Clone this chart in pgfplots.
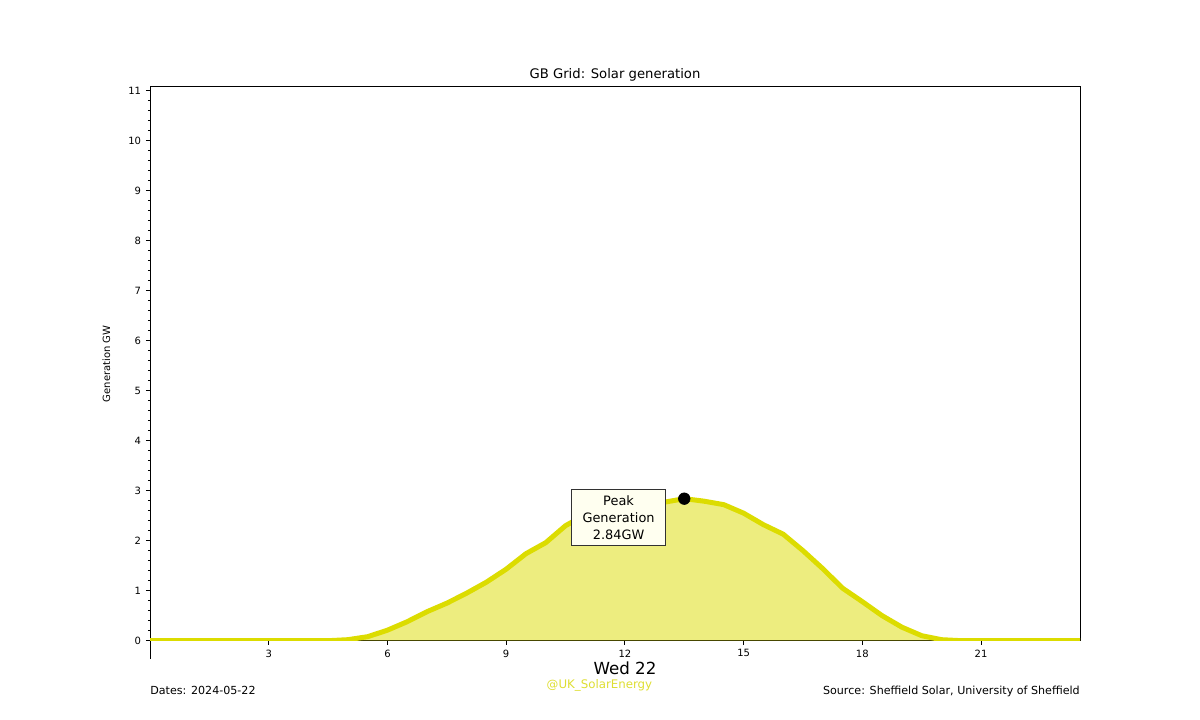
\documentclass[border=0pt]{standalone}
\usepackage{fontspec}
\setmainfont{DejaVu Sans}
\usepackage{pgfplots}
\usepackage{pgfplotstable}
\pgfplotsset{compat=1.18}
\definecolor{solar}{RGB}{220,220,0}
\definecolor{handle}{RGB}{222,222,50}
\definecolor{boxfill}{RGB}{255,255,240}

\pgfplotstableread{
h gw
0.0 0
0.5 0
1.0 0
1.5 0
2.0 0
2.5 0
3.0 0
3.5 0
4.0 0
4.5 0
5.0 0.02
5.5 0.08
6.0 0.21
6.5 0.38
7.0 0.58
7.5 0.75
8.0 0.95
8.5 1.17
9.0 1.43
9.5 1.74
10.0 1.96
10.5 2.30
11.0 2.52
11.5 2.62
12.0 2.68
12.5 2.72
13.0 2.77
13.5 2.84
14.0 2.79
14.5 2.72
15.0 2.55
15.5 2.32
16.0 2.13
16.5 1.80
17.0 1.44
17.5 1.05
18.0 0.78
18.5 0.50
19.0 0.27
19.5 0.10
20.0 0.02
20.5 0
21.0 0
21.5 0
22.0 0
22.5 0
23.0 0
23.5 0
}\solardata

\begin{document}
\begin{tikzpicture}[x=1pt,y=1pt]
\path[use as bounding box] (0,0) rectangle (864,518.4);
\begin{axis}[
  at={(108pt,57.1pt)}, anchor=south west,
  scale only axis, width=669.6pt, height=398.9pt,
  xmin=0, xmax=23.5, ymin=0, ymax=11.08,
  xtick={3,6,...,21},
  extra x ticks={0}, extra x tick labels={},
  extra x tick style={major tick length=13pt},
  ytick={0,...,11}, minor y tick num=4,
  tick align=outside, tick pos=left,
  major tick length=2.9pt, minor tick length=1.6pt,
  tick style={black, line width=0.6pt},
  minor tick style={line width=0.5pt},
  tick label style={font=\fontsize{7.2}{8}\selectfont},
  /pgf/number format/assume math mode=true,
  axis line style={line width=0.7pt},
  clip=true,
]
\addplot[draw=none, fill=solar, fill opacity=0.5] table[x=h,y=gw]{\solardata} \closedcycle;
\addplot[solar, line width=3.6pt, line join=round, line cap=round] table[x=h,y=gw]{\solardata};
\node[draw={rgb,255:red,50;green,50;blue,50}, line width=0.6pt, fill=boxfill,
  minimum width=67.7pt, minimum height=40.3pt, inner sep=0pt, align=center,
  font=\fontsize{9.3}{11.9}\selectfont] at (axis cs:11.84,2.46)
  {Peak\\Generation\\2.84GW};
\addplot[only marks, mark=*, mark size=4.2pt, black] coordinates {(13.5,2.84)};
\end{axis}
\node[anchor=base, font=\fontsize{9.5}{11}\selectfont] at (442.8,462.2) {GB Grid: Solar generation};
\node[anchor=base, rotate=90, font=\fontsize{7.2}{8}\selectfont] at (79.2,256.5) {Generation GW};
\node[anchor=base, font=\fontsize{12}{14}\selectfont] at (450,32.4) {Wed 22};
\node[anchor=base, text=handle, font=\fontsize{8.5}{10}\selectfont] at (431.6,23.0) {@UK\_SolarEnergy};
\node[anchor=base west, inner sep=0pt, font=\fontsize{8}{10}\selectfont] at (108,18.7) {Dates: 2024-05-22};
\node[anchor=base east, inner sep=0pt, font=\fontsize{8}{10}\selectfont] at (777.6,18.7) {Source: Sheffield Solar, University of Sheffield};
\end{tikzpicture}
\end{document}
